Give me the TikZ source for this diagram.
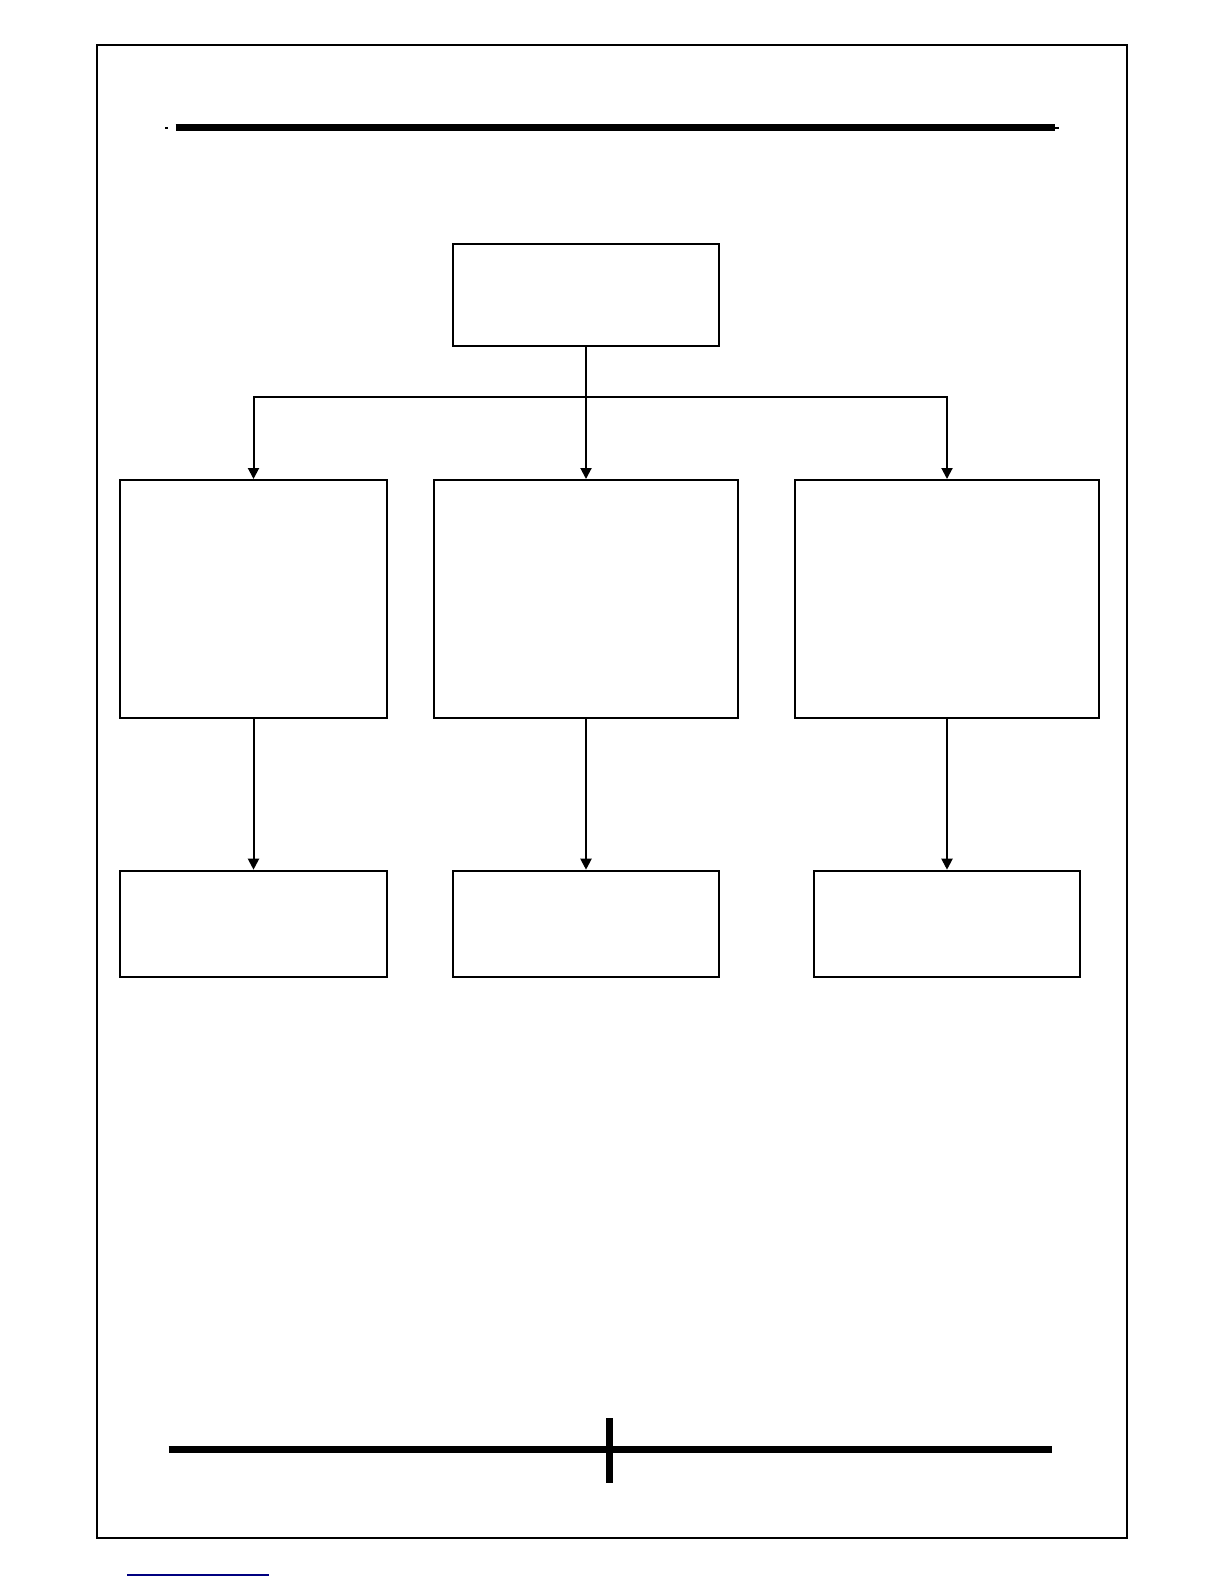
\documentclass[tikz,border=0pt]{standalone}
\usepackage{tikz}
\usepackage{amsmath}
\usetikzlibrary{arrows.meta}

\begin{document}
\begin{tikzpicture}[x=0.5pt,y=-0.5pt,
    box/.style={draw,rectangle,line width=1pt,inner sep=0pt},
    arrow/.style={draw,line width=1pt,-{Triangle[width=5.5pt,length=5.5pt]}}]

      \useasboundingbox (0,0) rectangle (1224,1584);

      % page frame and rules
      \draw[line width=0.75pt] (97,45) rectangle (1127,1538);
      \draw[line width=3.5pt] (175.5,128) -- (1055,128);
      \draw[line width=1pt] (165,128) -- (167.5,128);
      \draw[line width=1pt] (1055,128) -- (1059,128);
      \draw[line width=3.5pt] (168.5,1449.5) -- (1051.5,1449.5);
      \draw[line width=3.5pt] (609.5,1418) -- (609.5,1483);
      \draw[line width=0.8pt,color=blue!50!black] (127,1575) -- (269,1575);

      \begin{scope}[every node/.style={box}]
        \node[minimum width=133pt,minimum height=51pt] (top) at (586,295) {};
        \node[minimum width=133.5pt,minimum height=119pt] (ml) at (253.5,599) {};
        \node[minimum width=152pt,minimum height=119pt] (mc) at (586,599) {};
        \node[minimum width=152pt,minimum height=119pt] (mr) at (947,599) {};
        \node[minimum width=133.5pt,minimum height=53pt] (bl) at (253.5,923.7) {};
        \node[minimum width=133.3pt,minimum height=53pt] (bc) at (586,923.7) {};
        \node[minimum width=133pt,minimum height=53pt] (br) at (947,923.7) {};
      \end{scope}

      \coordinate (split) at (586,396.7);

      \begin{scope}[every path/.style={arrow}]
        \path (top.south) -- (mc.north);
        \path (split) -| (ml.north);
        \path (split) -| (mr.north);
        \path (ml.south) -- (bl.north);
        \path (mc.south) -- (bc.north);
        \path (mr.south) -- (br.north);
      \end{scope}

    \end{tikzpicture}
\end{document}
